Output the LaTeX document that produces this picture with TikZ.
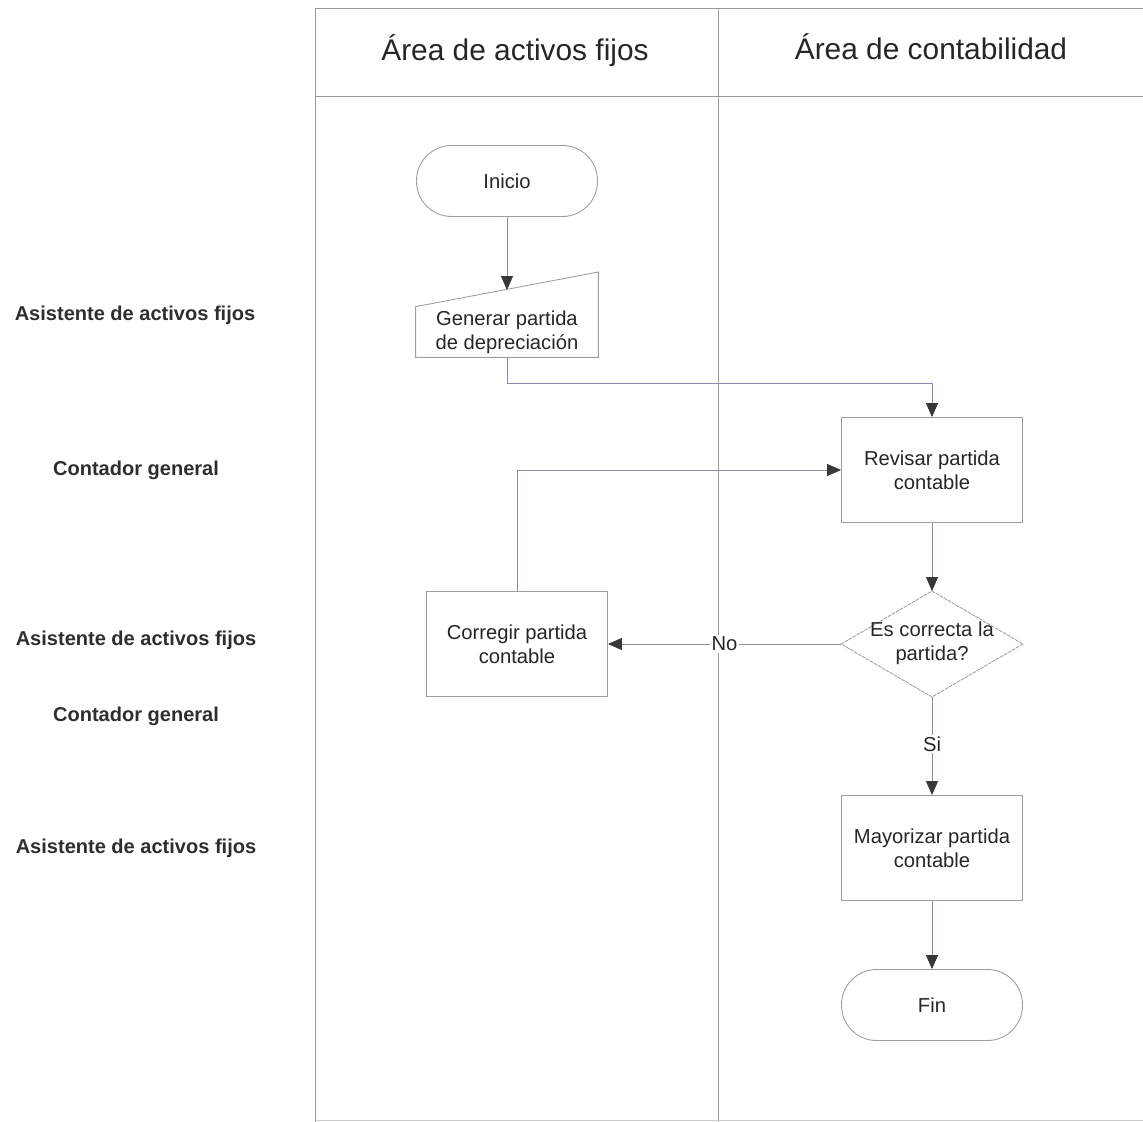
\documentclass[tikz,border=0pt]{standalone}
\usepackage{fontspec}
\setmainfont{Liberation Sans}
\usetikzlibrary{arrows.meta}
\begin{document}
\begin{tikzpicture}[x=0.02cm,y=-0.02cm,
  lane/.style={draw=black!40,line width=0.5pt},
  box/.style={draw=black!38,line width=0.5pt,fill=white,minimum width=3.62cm,minimum height=2.1cm,
    align=center,font=\fontsize{11.5}{13.7}\selectfont,text=black!85},
  term/.style={box,rounded corners=0.7cm,minimum height=1.42cm},
  role/.style={font=\bfseries\fontsize{11.4}{13}\selectfont,text=black!82},
  head/.style={anchor=base,font=\fontsize{17}{20}\selectfont,text=black!85},
  flow/.style={draw=blue!30!black!45,line width=0.5pt,
    -{Triangle[width=0.24cm,length=0.28cm,color=black!78]}},
  lbl/.style={fill=white,inner sep=1pt,font=\fontsize{11.5}{13.7}\selectfont,text=black!85}
]
\useasboundingbox (0,0) rectangle (1143,1122);

% swimlane frame
\draw[lane] (1143,8) -- (315,8) -- (315,1122);
\draw[lane] (718,8) -- (718,1122);
\draw[lane] (315,96) -- (1143,96);
\draw[lane,draw=black!20] (315,1120) -- (1143,1120);
\node[head] (h1) at (515,61) {Área de activos fijos};
\node[head] (h2) at (931,60) {Área de contabilidad};

% role labels
\node[role] (r1) at (135,315) {Asistente de activos fijos};
\node[role] (r2) at (136,470) {Contador general};
\node[role] (r3) at (136,640) {Asistente de activos fijos};
\node[role] (r4) at (136,716) {Contador general};
\node[role] (r5) at (136,848) {Asistente de activos fijos};

% process nodes
\node[term] (ini) at (507,181) {Inicio};
\node[align=center,font=\fontsize{11.5}{13.7}\selectfont,text=black!85,
      minimum width=3.64cm,minimum height=1cm,inner sep=0pt] (gen) at (507,332)
      {Generar partida\\de depreciación};
\draw[draw=black!38,line width=0.5pt]
  (gen.south west) -- (gen.north west) -- (gen.east |- 0,272) -- (gen.south east) -- cycle;
\coordinate (gentop) at (507,290);
\node[box] (rev) at (932,470) {Revisar partida\\contable};
\node[box,draw=none,fill=none] (dec) at (932,644) {};
\draw[draw=black!38,line width=0.5pt,dash pattern=on 2pt off 0.6pt]
  (dec.north) -- (dec.east) -- (dec.south) -- (dec.west) -- cycle;
\node[align=center,font=\fontsize{11.5}{13.7}\selectfont,text=black!85] (dect) at (932,643)
  {Es correcta la\\partida?};
\node[box] (cor) at (517,644) {Corregir partida\\contable};
\node[box] (may) at (932,848) {Mayorizar partida\\contable};
\node[term] (fin) at (932,1005) {Fin};

% connectors
\draw[flow] (ini.south) -- (gentop);
\draw[flow] (gen.south) |- (932,383) -- (rev.north);
\draw[flow] (rev.south) -- (dec.north);
\draw[flow] (dec.west) -- node[lbl,pos=0.5] (no) {No} (cor.east);
\draw[flow] (cor.north) |- (rev.west);
\draw[flow] (dec.south) -- node[lbl,pos=0.48] (si) {Si} (may.north);
\draw[flow] (may.south) -- (fin.north);
\end{tikzpicture}
\end{document}
